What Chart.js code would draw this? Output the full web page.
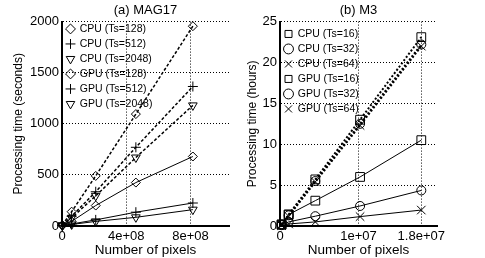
<!DOCTYPE html>
<html>
<head>
<meta charset="utf-8">
<script src="https://cdn.jsdelivr.net/npm/chart.js@4.4.0/dist/chart.umd.min.js"></script>
<style>
body{margin:0;background:#fff;width:485px;height:258px;overflow:hidden}
canvas{position:absolute;top:0}
</style>
</head>
<body>
<canvas id="magChart" width="240" height="258" style="left:0"></canvas>
<canvas id="m3Chart" width="245" height="258" style="left:240px"></canvas>
<script>
// (a) MAG17 - seconds vs number of pixels
let magPixels = [2e6, 6e7, 2.1e8, 4.6e8, 8.15e8]
let magCpu128 = [10, 140, 490, 1095, 1955]
let magCpu512 = [8, 95, 335, 770, 1365]
let magCpu2048 = [7, 80, 295, 670, 1180]
let magGpu128 = [5, 45, 200, 425, 680]
let magGpu512 = [3, 20, 60, 135, 225]
let magGpu2048 = [3, 15, 45, 85, 160]
let magXTicks = [0, 4e8, 8e8]
let magXLabels = ['0', '4e+08', '8e+08']

// (b) M3 - hours vs number of pixels
let m3Pixels = [2e5, 1.1e6, 4.5e6, 1.02e7, 1.8e7]
let m3Cpu16 = [0.2, 1.4, 5.7, 13.0, 23.1]
let m3Cpu32 = [0.2, 1.3, 5.5, 12.5, 22.2]
let m3Cpu64 = [0.2, 1.2, 5.4, 12.3, 22.0]
let m3Gpu16 = [0.15, 1.4, 3.1, 6.0, 10.5]
let m3Gpu32 = [0.1, 0.5, 1.2, 2.45, 4.35]
let m3Gpu64 = [0.05, 0.25, 0.5, 1.15, 1.95]
let m3XTicks = [0, 1e7, 1.8e7]
let m3XLabels = ['0', '1e+07', '1.8e+07']

Chart.defaults.font.family = '"Liberation Sans", Arial, sans-serif'
Chart.defaults.color = '#000'

function series(label, xs, ys, marker, cpu, dash, width) {
    return {
        label: label,
        data: xs.map((x, i) => ({x: x, y: ys[i]})),
        borderColor: '#000',
        backgroundColor: 'rgba(0,0,0,0)',
        borderWidth: width,
        borderDash: cpu ? dash : [],
        pointStyle: marker.style,
        pointRadius: marker.r,
        pointRotation: marker.rot || 0,
        pointBorderWidth: 1,
        pointBorderColor: '#000',
        pointBackgroundColor: 'rgba(0,0,0,0)',
        tension: 0,
        clip: false
    }
}

let diamond = {style: 'rectRot', r: 4.5}
let plus = {style: 'cross', r: 5}
let triDown = {style: 'triangle', r: 5, rot: 180}
let square = {style: 'rect', r: 6.2}
let circle = {style: 'circle', r: 4.5}
let cross = {style: 'crossRot', r: 6}

function gridColor(ctx) {
    return ctx.tick && ctx.tick.value === 0 ? 'rgba(0,0,0,0)' : '#000'
}

function makeChart(id, opts) {
    new Chart(document.getElementById(id).getContext('2d'), {
        type: 'line',
        data: {datasets: opts.datasets},
        options: {
            responsive: false,
            animation: false,
            devicePixelRatio: 1,
            layout: {padding: {left: 0, right: opts.padRight, top: 0, bottom: 0}},
            plugins: {
                title: {
                    display: true,
                    text: opts.title,
                    fullSize: false,
                    font: {size: 13, weight: 'normal'},
                    color: '#000',
                    padding: {top: 3, bottom: 3}
                },
                legend: {
                    position: 'chartArea',
                    align: 'start',
                    // legend box starts at the canvas top, the title pushes the items down into the plot
                    title: {display: true, text: '', font: {size: 1}, padding: {top: opts.legendTop, bottom: 0}},
                    labels: {
                        usePointStyle: true,
                        boxWidth: 8,
                        boxHeight: 7,
                        padding: 4.5,
                        font: {size: 10.5},
                        color: '#000'
                    }
                },
                tooltip: {enabled: false}
            },
            scales: {
                x: {
                    type: 'linear',
                    min: 0,
                    max: opts.xMax,
                    afterBuildTicks: s => { s.ticks = opts.xTicks.map(v => ({value: v})) },
                    afterFit: s => { s.height = 32 },
                    ticks: {
                        callback: (v, i) => opts.xLabels[i],
                        font: {size: 13},
                        padding: 3,
                        maxRotation: 0
                    },
                    grid: {color: gridColor, lineWidth: 1, drawTicks: false},
                    border: {display: true, color: '#000', width: 2, dash: [1, 2]},
                    title: {
                        display: true,
                        text: 'Number of pixels',
                        font: {size: 13.5},
                        padding: {top: 0, bottom: 0}
                    }
                },
                y: {
                    min: 0,
                    max: opts.yMax,
                    afterFit: s => { s.width = opts.yWidth },
                    ticks: {stepSize: opts.yStep, font: {size: 13}, padding: 3, callback: v => String(v)},
                    grid: {color: gridColor, lineWidth: 1, drawTicks: false},
                    border: {display: true, color: '#000', width: 2, dash: [1, 2]},
                    title: {
                        display: true,
                        text: opts.yTitle,
                        font: {size: 12},
                        padding: {top: opts.yTitlePad, bottom: 0}
                    }
                }
            }
        }
    })
}

makeChart('magChart', {
    title: '(a) MAG17',
    yTitle: 'Processing time (seconds)',
    yTitlePad: 11,
    yWidth: 62,
    padRight: 11,
    legendTop: 18,
    xMax: 1.04e9,
    yMax: 2000,
    yStep: 500,
    xTicks: magXTicks,
    xLabels: magXLabels,
    datasets: [
        series('CPU (Ts=128)', magPixels, magCpu128, diamond, true, [3, 2], 1.5),
        series('CPU (Ts=512)', magPixels, magCpu512, plus, true, [3, 2], 1.5),
        series('CPU (Ts=2048)', magPixels, magCpu2048, triDown, true, [3, 2], 1.5),
        series('GPU (Ts=128)', magPixels, magGpu128, diamond, false, [], 1),
        series('GPU (Ts=512)', magPixels, magGpu512, plus, false, [], 1),
        series('GPU (Ts=2048)', magPixels, magGpu2048, triDown, false, [], 1)
    ]
})

makeChart('m3Chart', {
    title: '(b) M3',
    yTitle: 'Processing time (hours)',
    yTitlePad: 5.5,
    yWidth: 40,
    padRight: 48,
    legendTop: 23,
    xMax: 2e7,
    yMax: 25,
    yStep: 5,
    xTicks: m3XTicks,
    xLabels: m3XLabels,
    datasets: [
        series('CPU (Ts=16)', m3Pixels, m3Cpu16, square, true, [2, 2], 2),
        series('CPU (Ts=32)', m3Pixels, m3Cpu32, circle, true, [2, 2], 2),
        series('CPU (Ts=64)', m3Pixels, m3Cpu64, cross, true, [2, 2], 2),
        series('GPU (Ts=16)', m3Pixels, m3Gpu16, square, false, [], 1),
        series('GPU (Ts=32)', m3Pixels, m3Gpu32, circle, false, [], 1),
        series('GPU (Ts=64)', m3Pixels, m3Gpu64, cross, false, [], 1)
    ]
})
</script>
</body>
</html>
